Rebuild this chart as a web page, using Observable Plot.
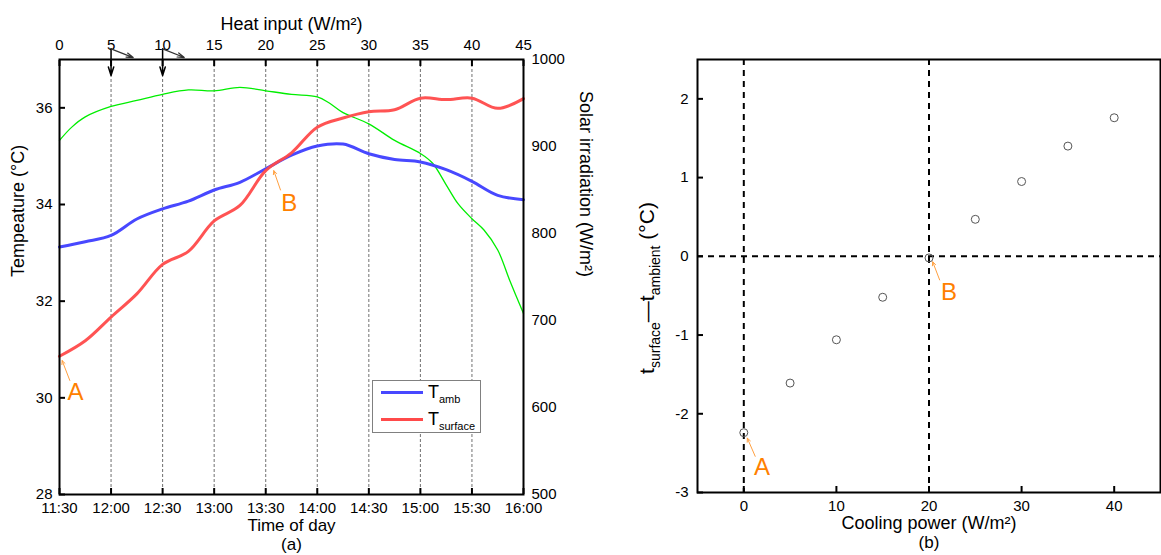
<!DOCTYPE html>
<html><head><meta charset="utf-8">
<script src="https://cdn.jsdelivr.net/npm/d3@7"></script>
<script src="https://cdn.jsdelivr.net/npm/@observablehq/plot@0.6"></script>
<style>
body{margin:0;background:#fff;font-family:"Liberation Sans",Arial,sans-serif;}
#wrap{position:relative;width:1161px;height:555px;overflow:hidden;background:#fff;}
.abs{position:absolute;}
.lg{position:absolute;font-size:18px;line-height:18px;white-space:nowrap;color:#000;}
.sub{position:relative;font-size:11px;top:5px;}
</style></head><body>
<div id="wrap">
  <div id="left" class="abs" style="left:0;top:0"></div>
  <div id="right" class="abs" style="left:600px;top:0"></div>
  <div id="legend" class="abs" style="left:372px;top:380px;width:109px;height:53px;border:1px solid #808080;background:#fff;box-sizing:border-box;">
    <div class="abs" style="left:8px;top:10px;width:42px;height:3px;background:#4848ff"></div>
    <div class="lg" style="left:55px;top:2px">T<span class="sub">amb</span></div>
    <div class="abs" style="left:8px;top:37px;width:42px;height:3px;background:#ff4a4a"></div>
    <div class="lg" style="left:55px;top:29px">T<span class="sub">surface</span></div>
  </div>
  <div id="ylab2" class="abs" style="left:646px;top:288px;transform:translate(-50%,-50%) rotate(-90deg);font-size:21px;line-height:21px;height:21px;white-space:nowrap;">t<span style="position:relative;font-size:14px;top:6px">surface</span>—t<span style="position:relative;font-size:14px;top:6px">ambient</span> (°C)</div>
</div>
<script>
// ---- data: panel (a) ----
const timeLabels = ["11:30","12:00","12:30","13:00","13:30","14:00","14:30","15:00","15:30","16:00"];
const tempTimes = ["11:30","11:45","12:00","12:15","12:30","12:45","13:00","13:15","13:30","13:45","14:00","14:15","14:30","14:45","15:00","15:15","15:30","15:45","16:00"];
const tAmb = [33.12,33.23,33.36,33.70,33.91,34.07,34.30,34.46,34.74,35.02,35.21,35.25,35.05,34.93,34.88,34.72,34.48,34.19,34.10];
const tSurface = [30.86,31.18,31.67,32.15,32.76,33.03,33.66,33.98,34.70,35.07,35.60,35.79,35.92,35.96,36.20,36.17,36.20,35.99,36.19];
const solarTimes = ["11:30","11:37","11:45","12:00","12:15","12:30","12:45","13:00","13:15","13:30","13:45","14:00","14:07","14:15","14:30","14:45","15:00","15:07","15:15","15:22","15:30","15:37","15:45","15:52","16:00"];
const solar = [907,922,934,946,953,960,965,964,968,964,960,957,950,939,926,907,892,881,856,834,817,804,781,746,708];
const tempTicks = [28,30,32,34,36];
const solarTicks = [500,600,700,800,900,1000];
const heatTicks = [0,5,10,15,20,25,30,35,40,45];
// annotation arrows on heat-input axis (heat units, temperature units)
const heatArrowsDown = [{h:5, y1:37.22, y2:36.67},{h:10, y1:37.22, y2:36.67}];
const heatArrowsDiag = [{h1:5, h2:7.15, y1:37.22, y2:37.04},{h1:10, h2:12.1, y1:37.22, y2:37.04}];
const labelsA = [{text:"A", t:9.3, y:30.12},{text:"B", t:133.7, y:34.03}];
const arrowsA = [{t1:6.0, y1:30.36, t2:1.55, y2:30.77},{t1:128.6, y1:34.30, t2:124.7, y2:34.70}];

// ---- data: panel (b) ----
const coolingPower = [0,5,10,15,20,25,30,35,40];
const deltaT = [-2.24,-1.61,-1.06,-0.52,-0.02,0.47,0.95,1.40,1.76];
const coolingTicks = [0,10,20,30,40];
const deltaTicks = [-3,-2,-1,0,1,2];
const refX = [0,20];
const refY = [0];
const labelsB = [{text:"A", x:1.96, y:-2.68},{text:"B", x:22.15, y:-0.46}];
const arrowsB = [{x1:1.23, y1:-2.54, x2:0.38, y2:-2.31},{x1:21.15, y1:-0.30, x2:20.4, y2:-0.07}];

// ---- helpers ----
const toMin = s => { const [h,m] = s.split(":").map(Number); return h*60 + m - 690; };
const minLabel = new Map(timeLabels.map(s => [toMin(s), s]));
const sToT = d3.scaleLinear([500,1000],[28,37]);
const hToM = d3.scaleLinear([0,45],[0,270]);
const font = "'Liberation Sans', Arial, sans-serif";
const orange = "#ff8000";

const ambData = tempTimes.map((t,i) => ({m: toMin(t), v: tAmb[i]}));
const surfData = tempTimes.map((t,i) => ({m: toMin(t), v: tSurface[i]}));
const solData = solarTimes.map((t,i) => ({m: toMin(t), v: sToT(solar[i])}));

const left = Plot.plot({
  width: 600, height: 555,
  marginLeft: 59, marginRight: 77, marginTop: 59, marginBottom: 61,
  style: {fontFamily: font, fontSize: "15px", background: "transparent", overflow: "visible", color: "black"},
  x: {domain: [0,270]},
  y: {domain: [28,37]},
  marks: [
    Plot.ruleX(timeLabels.slice(1,-1).map(toMin), {stroke: "#707070", strokeWidth: 1, strokeDasharray: "3,2"}),
    Plot.line(solData, {x: "m", y: "v", stroke: "#00ee00", strokeWidth: 1.3, curve: "catmull-rom"}),
    Plot.line(ambData, {x: "m", y: "v", stroke: "#4848ff", strokeWidth: 3, curve: "catmull-rom"}),
    Plot.line(surfData, {x: "m", y: "v", stroke: "#ff4a4a", strokeWidth: 3, strokeOpacity: 0.95, curve: "catmull-rom"}),
    Plot.axisX({anchor: "bottom", ticks: timeLabels.map(toMin), tickFormat: d => minLabel.get(d), tickSize: -6, strokeWidth: 2, tickPadding: 14, label: null}),
    Plot.axisX({anchor: "top", ticks: heatTicks.map(hToM), tickFormat: d => String(Math.round(hToM.invert(d))), tickSize: -6, strokeWidth: 2, tickPadding: 16, label: null}),
    Plot.axisY({anchor: "left", ticks: tempTicks, tickSize: -6, strokeWidth: 2, tickPadding: 13, label: null}),
    Plot.axisY({anchor: "right", ticks: solarTicks.map(sToT), tickFormat: d => String(Math.round(sToT.invert(d))), tickSize: 0, tickPadding: 8, label: null}),
    Plot.arrow(heatArrowsDown, {x1: d => hToM(d.h), x2: d => hToM(d.h), y1: "y1", y2: "y2", stroke: "black", strokeWidth: 1.5, headLength: 9, headAngle: 35}),
    Plot.arrow(heatArrowsDiag, {x1: d => hToM(d.h1), x2: d => hToM(d.h2), y1: "y1", y2: "y2", stroke: "#333", strokeWidth: 1.2, headLength: 9, headAngle: 35}),
    Plot.arrow(arrowsA, {x1: "t1", y1: "y1", x2: "t2", y2: "y2", stroke: "#ffa040", strokeWidth: 1, headLength: 6, headAngle: 50}),
    Plot.text(labelsA, {x: "t", y: "y", text: "text", fill: orange, fontSize: 24}),
    Plot.frame({stroke: "black", strokeWidth: 2}),
    Plot.text(["Heat input (W/m²)"], {text: d => d, frameAnchor: "top", dy: -42, fontSize: 18}),
    Plot.text(["Time of day"], {text: d => d, frameAnchor: "bottom", dy: 36, fontSize: 17}),
    Plot.text(["(a)"], {text: d => d, frameAnchor: "bottom", dy: 55, fontSize: 17}),
    Plot.text(["Tempeature (°C)"], {text: d => d, frameAnchor: "left", dx: -41, rotate: -90, fontSize: 18}),
    Plot.text(["Solar irradiation (W/m²)"], {text: d => d, frameAnchor: "right", dx: 62, rotate: 90, fontSize: 18})
  ]
});
document.getElementById("left").appendChild(left);

const pts = coolingPower.map((c,i) => ({x: c, y: deltaT[i]}));
const right = Plot.plot({
  width: 561, height: 555,
  marginLeft: 97, marginRight: 1, marginTop: 59, marginBottom: 63,
  style: {fontFamily: font, fontSize: "15px", background: "transparent", overflow: "visible", color: "black"},
  x: {domain: [-5,45]},
  y: {domain: [-3,2.5]},
  marks: [
    Plot.ruleX(refX, {stroke: "black", strokeWidth: 2, strokeDasharray: "6,5"}),
    Plot.ruleY(refY, {stroke: "black", strokeWidth: 2, strokeDasharray: "6,5"}),
    Plot.dot(pts, {x: "x", y: "y", r: 4, stroke: "#555", strokeWidth: 1, fill: "none"}),
    Plot.arrow(arrowsB, {x1: "x1", y1: "y1", x2: "x2", y2: "y2", stroke: "#ffa040", strokeWidth: 1, headLength: 6, headAngle: 50}),
    Plot.text(labelsB, {x: "x", y: "y", text: "text", fill: orange, fontSize: 24}),
    Plot.axisX({anchor: "bottom", ticks: coolingTicks, tickFormat: d => String(d), tickSize: -6, strokeWidth: 2, tickPadding: 14, label: null}),
    Plot.axisY({anchor: "left", ticks: deltaTicks, tickFormat: d => String(d), tickSize: -6, strokeWidth: 2, tickPadding: 15, label: null}),
    Plot.frame({stroke: "black", strokeWidth: 2}),
    Plot.text(["Cooling power (W/m²)"], {text: d => d, frameAnchor: "bottom", dy: 36, fontSize: 18}),
    Plot.text(["(b)"], {text: d => d, frameAnchor: "bottom", dy: 55, fontSize: 17})
  ]
});
document.getElementById("right").appendChild(right);
</script>
</body></html>
